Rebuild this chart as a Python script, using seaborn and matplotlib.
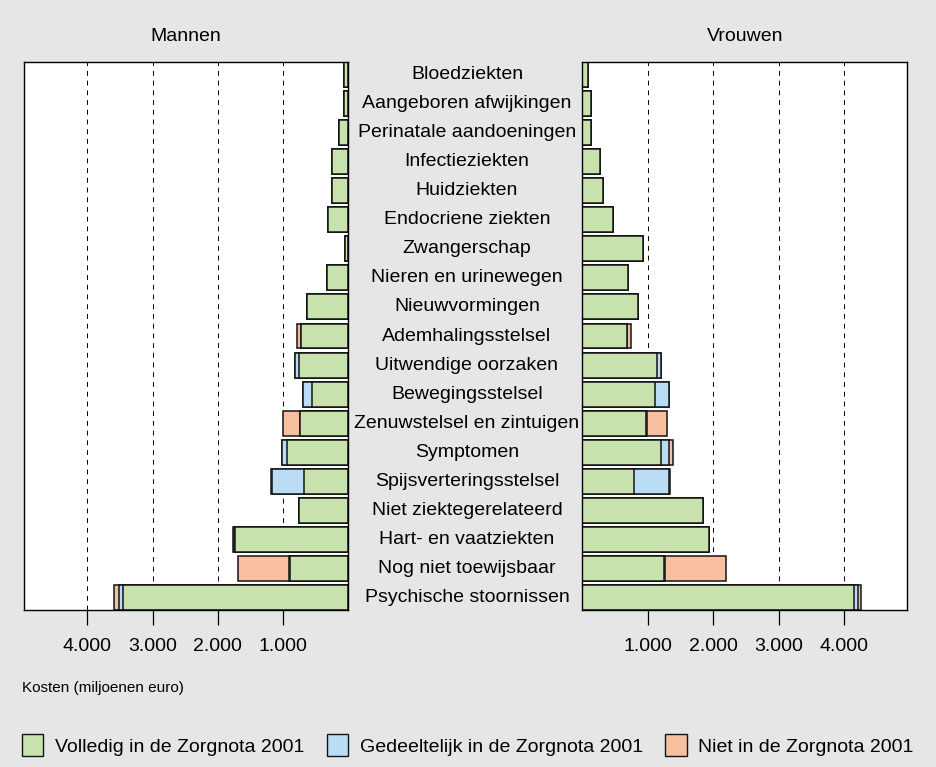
import matplotlib
matplotlib.use("Agg")
import matplotlib.pyplot as plt
import matplotlib.transforms as mtransforms
from matplotlib.patches import Patch
import pandas as pd
import seaborn as sns


# Data (miljoenen euro)
categories = [
    "Bloedziekten", "Aangeboren afwijkingen", "Perinatale aandoeningen",
    "Infectieziekten", "Huidziekten", "Endocriene ziekten", "Zwangerschap",
    "Nieren en urinewegen", "Nieuwvormingen", "Ademhalingsstelsel",
    "Uitwendige oorzaken", "Bewegingsstelsel", "Zenuwstelsel en zintuigen",
    "Symptomen", "Spijsverteringsstelsel", "Niet ziektegerelateerd",
    "Hart- en vaatziekten", "Nog niet toewijsbaar", "Psychische stoornissen",
]

men_full = [70, 70, 150, 257, 257, 314, 55, 334, 630, 727,
            753, 554, 738, 937, 677, 758, 1733, 891, 3457]
men_part = [0, 0, 0, 0, 0, 0, 0, 0, 0, 0,
            71, 147, 0, 80, 490, 0, 25, 25, 53]
men_none = [0, 0, 0, 0, 0, 0, 0, 0, 0, 57,
            0, 0, 260, 6, 24, 0, 6, 781, 76]

women_full = [89, 130, 130, 267, 313, 466, 924, 690, 847, 684,
              1142, 1107, 969, 1203, 786, 1844, 1927, 1244, 4156]
women_part = [0, 0, 0, 0, 0, 0, 0, 0, 0, 0,
              61, 218, 20, 122, 539, 0, 10, 20, 55]
women_none = [0, 0, 0, 0, 0, 0, 0, 0, 0, 61,
              0, 0, 296, 61, 15, 0, 0, 937, 52]

tick_values = [1000, 2000, 3000, 4000]
tick_labels = ["1.000", "2.000", "3.000", "4.000"]

legend_labels = ["Volledig in de Zorgnota 2001",
                 "Gedeeltelijk in de Zorgnota 2001",
                 "Niet in de Zorgnota 2001"]

GREEN = "#c8e2ae"
BLUE = "#b8ddf5"
ORANGE = "#f8bea0"
BG = "#e6e6e6"
EDGE = "#141414"

sns.set_style("white")
plt.rcParams["font.family"] = ["Liberation Sans", "DejaVu Sans"]
plt.rcParams["text.color"] = "black"
plt.rcParams["xtick.color"] = "black"
plt.rcParams["axes.titlecolor"] = "black"

W, H = 937, 767
fig = plt.figure(figsize=(W / 100, H / 100), dpi=100, facecolor=BG)

top, bottom = 62, 610
ax_m = fig.add_axes([24 / W, 1 - bottom / H, (348.5 - 24) / W, (bottom - top) / H])
ax_v = fig.add_axes([582.5 / W, 1 - bottom / H, (907 - 582.5) / W, (bottom - top) / H])

BAR_H = 0.86


def draw_panel(ax, full, part, none, title):
    df = pd.DataFrame({"cat": categories, "full": full, "part": part, "none": none})
    df["fp"] = df["full"] + df["part"]
    df["tot"] = df["fp"] + df["none"]

    # stacked look: draw totals first, then smaller sums over them
    for col, color in [("tot", ORANGE), ("fp", BLUE), ("full", GREEN)]:
        sns.barplot(data=df, x=col, y="cat", orient="h", color=color,
                    saturation=1, width=BAR_H, edgecolor=EDGE,
                    linewidth=1.1, ax=ax)

    ax.set_ylim(len(categories) - 1 + BAR_H / 2, -BAR_H / 2)
    ax.set_facecolor("white")
    ax.set_axisbelow(True)
    ax.xaxis.grid(True, linestyle=(0, (5, 5)), color="black", linewidth=0.7)
    ax.yaxis.grid(False)
    ax.set_yticks([])
    ax.set_xlabel("")
    ax.set_ylabel("")
    ax.set_xticks(tick_values)
    ax.set_xticklabels(tick_labels)
    ax.tick_params(axis="x", direction="out", length=11, width=0.9,
                   color="black", labelcolor="black", pad=9, labelsize=14,
                   bottom=True)
    for sp in ax.spines.values():
        sp.set_visible(True)
        sp.set_color("black")
        sp.set_linewidth(1.0)
    ax.set_title(title, fontsize=14, pad=15, color="black")


draw_panel(ax_m, men_full, men_part, men_none, "Mannen")
ax_m.set_xlim(4970, 0)
draw_panel(ax_v, women_full, women_part, women_none, "Vrouwen")
ax_v.set_xlim(0, 4960)

# category labels between the panels
trans = mtransforms.blended_transform_factory(fig.transFigure, ax_m.transData)
for i, cat in enumerate(categories):
    ax_m.text(467 / W, i, cat, transform=trans, ha="center", va="center",
              fontsize=14, color="black", clip_on=False)

fig.text(22.5 / W, 1 - 688 / H, "Kosten (miljoenen euro)", fontsize=11,
         ha="left", va="center", color="black")

handles = [Patch(facecolor=c, edgecolor=EDGE, linewidth=1.0)
           for c in (GREEN, BLUE, ORANGE)]
fig.legend(handles, legend_labels, loc="center left",
           bbox_to_anchor=(22 / W, 1 - 745 / H), ncol=3, frameon=False,
           fontsize=14, handlelength=1.1, handleheight=1.3,
           handletextpad=0.6, columnspacing=1.15, borderaxespad=0,
           borderpad=0, labelcolor="black")

fig.savefig("out.png", dpi=100, facecolor=BG)
